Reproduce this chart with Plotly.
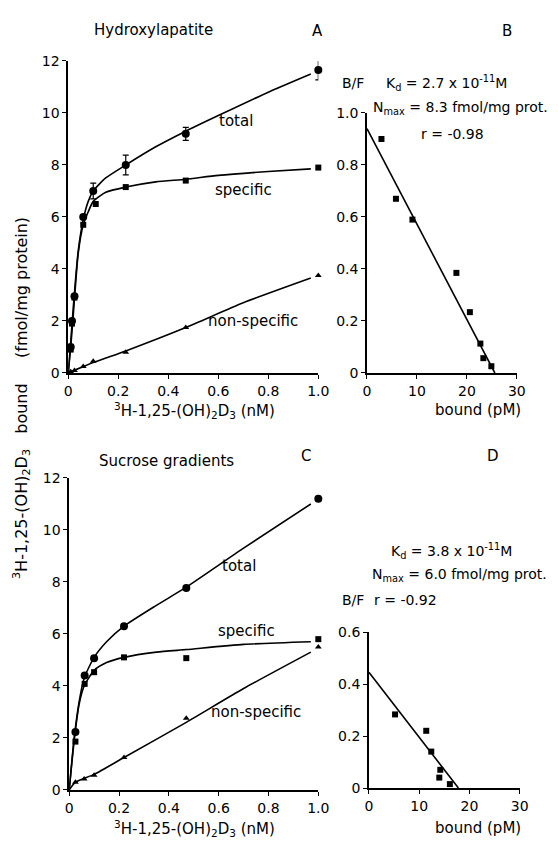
import plotly.graph_objects as go

# ---------------- Data ----------------
# Panel A: Hydroxylapatite
a_conc_total = [0.01, 0.015, 0.025, 0.06, 0.10, 0.23, 0.47, 1.0]
a_total = [1.0, 2.0, 2.95, 6.0, 7.0, 8.0, 9.2, 11.65]
a_total_err = [0.0, 0.0, 0.0, 0.0, 0.3, 0.38, 0.25, 0.38]
a_conc_spec = [0.01, 0.015, 0.025, 0.06, 0.11, 0.23, 0.47, 1.0]
a_specific = [0.9, 1.9, 2.9, 5.7, 6.5, 7.15, 7.4, 7.9]
a_conc_ns = [0.01, 0.025, 0.06, 0.10, 0.23, 0.47, 1.0]
a_nonspecific = [0.05, 0.1, 0.25, 0.45, 0.8, 1.75, 3.75]

a_curve_x = [0, 0.01, 0.02, 0.04, 0.06, 0.08, 0.10, 0.15, 0.23, 0.35, 0.47, 0.6, 0.8, 0.97]
a_curve_total = [0, 1.2, 2.5, 4.7, 5.9, 6.6, 7.0, 7.5, 8.0, 8.7, 9.3, 9.9, 10.8, 11.5]
a_curve_specific = [0, 1.0, 2.2, 4.6, 5.7, 6.2, 6.6, 6.95, 7.15, 7.35, 7.45, 7.6, 7.75, 7.85]
a_curve_ns_x = [0, 0.1, 0.23, 0.47, 0.7, 0.97]
a_curve_ns = [0, 0.4, 0.85, 1.75, 2.7, 3.65]

# Panel B: Scatchard (hydroxylapatite)
b_bound = [2.9, 5.8, 9.1, 17.9, 20.6, 22.7, 23.3, 24.9]
b_bf = [0.90, 0.67, 0.59, 0.385, 0.234, 0.113, 0.057, 0.026]
b_fit_x = [0, 25.6]
b_fit_y = [0.94, 0]

# Panel C: Sucrose gradients
c_conc = [0.025, 0.062, 0.10, 0.22, 0.47, 1.0]
c_total = [2.23, 4.4, 5.07, 6.3, 7.77, 11.2]
c_specific = [1.86, 4.08, 4.53, 5.1, 5.07, 5.8]
c_conc_ns = [0.025, 0.06, 0.10, 0.22, 0.47, 1.0]
c_nonspecific = [0.3, 0.42, 0.57, 1.25, 2.76, 5.5]

c_curve_x = [0, 0.02, 0.04, 0.06, 0.10, 0.15, 0.22, 0.35, 0.47, 0.7, 0.97]
c_curve_total = [0, 2.0, 3.4, 4.3, 5.1, 5.7, 6.3, 7.1, 7.8, 9.3, 11.0]
c_curve_specific = [0, 1.9, 3.3, 4.0, 4.6, 4.9, 5.1, 5.3, 5.4, 5.6, 5.7]
c_curve_ns_x = [0, 0.025, 0.10, 0.22, 0.47, 0.7, 0.97]
c_curve_ns = [0, 0.3, 0.6, 1.25, 2.6, 3.9, 5.3]

# Panel D: Scatchard (sucrose gradients)
d_bound = [5.2, 11.4, 12.4, 14.2, 14.0, 16.1]
d_bf = [0.283, 0.22, 0.14, 0.07, 0.04, 0.015]
d_fit_x = [0, 17.8]
d_fit_y = [0.445, 0]

# tick labels
conc_ticks = [0, 0.2, 0.4, 0.6, 0.8, 1.0]
conc_ticktext = ["0", "0.2", "0.4", "0.6", "0.8", "1.0"]
fmol_ticks = [0, 2, 4, 6, 8, 10, 12]
bound_ticks = [0, 10, 20, 30]
bf_ticks_b = [0, 0.2, 0.4, 0.6, 0.8, 1.0]
bf_ticktext_b = ["0", "0.2", "0.4", "0.6", "0.8", "1.0"]
bf_ticks_d = [0, 0.2, 0.4, 0.6]
bf_ticktext_d = ["0", "0.2", "0.4", "0.6"]

# ---------------- Layout helpers ----------------
W, H = 558, 848
FONT = "DejaVu Sans"


def px(p):
    return p / W


def py(p):
    return 1 - p / H


fig = go.Figure()


def line(x, y, xa, ya):
    fig.add_trace(go.Scatter(x=x, y=y, mode="lines", xaxis=xa, yaxis=ya,
                             line=dict(color="black", width=1.6, shape="spline", smoothing=0.6),
                             cliponaxis=False, showlegend=False, hoverinfo="skip"))


def pts(x, y, xa, ya, symbol, size, err=None):
    kw = {}
    if err is not None:
        kw["error_y"] = dict(type="data", array=err, color="black", thickness=1.2, width=3)
    fig.add_trace(go.Scatter(x=x, y=y, mode="markers", xaxis=xa, yaxis=ya,
                             marker=dict(symbol=symbol, size=size, color="black"),
                             cliponaxis=False, showlegend=False, **kw))


# Panel A
line(a_curve_x, a_curve_total, "x", "y")
line(a_curve_x, a_curve_specific, "x", "y")
line(a_curve_ns_x, a_curve_ns, "x", "y")
pts(a_conc_total, a_total, "x", "y", "circle", 8, a_total_err)
pts(a_conc_spec, a_specific, "x", "y", "square", 6)
pts(a_conc_ns, a_nonspecific, "x", "y", "triangle-up", 6)

# Panel B
fig.add_trace(go.Scatter(x=b_fit_x, y=b_fit_y, mode="lines", xaxis="x2", yaxis="y2",
                         line=dict(color="black", width=1.6), cliponaxis=False, showlegend=False))
pts(b_bound, b_bf, "x2", "y2", "square", 6)

# Panel C
line(c_curve_x, c_curve_total, "x3", "y3")
line(c_curve_x, c_curve_specific, "x3", "y3")
line(c_curve_ns_x, c_curve_ns, "x3", "y3")
pts(c_conc, c_total, "x3", "y3", "circle", 8)
pts(c_conc, c_specific, "x3", "y3", "square", 6)
pts(c_conc_ns, c_nonspecific, "x3", "y3", "triangle-up", 6)

# Panel D
fig.add_trace(go.Scatter(x=d_fit_x, y=d_fit_y, mode="lines", xaxis="x4", yaxis="y4",
                         line=dict(color="black", width=1.6), cliponaxis=False, showlegend=False))
pts(d_bound, d_bf, "x4", "y4", "square", 6)

axis_common = dict(showline=True, linecolor="black", linewidth=1.5, ticks="outside", ticklen=4,
                   tickwidth=1.2, tickcolor="black", showgrid=False, zeroline=False,
                   tickfont=dict(family=FONT, size=14, color="black"), fixedrange=True)

fig.update_layout(
    width=W, height=H, margin=dict(l=0, r=0, t=0, b=0),
    paper_bgcolor="white", plot_bgcolor="white", showlegend=False,
    font=dict(family=FONT, size=14, color="black"),
    xaxis=dict(domain=[px(66), px(323)], range=[0, 1.0], anchor="y",
               tickvals=conc_ticks, ticktext=conc_ticktext, **axis_common),
    yaxis=dict(domain=[py(372), py(54)], range=[0, 12], anchor="x",
               tickvals=fmol_ticks, **axis_common),
    xaxis2=dict(domain=[px(373), px(527)], range=[0, 30], anchor="y2",
                tickvals=bound_ticks, **axis_common),
    yaxis2=dict(domain=[py(372), py(107)], range=[0, 1.0], anchor="x2",
                tickvals=bf_ticks_b, ticktext=bf_ticktext_b, **axis_common),
    xaxis3=dict(domain=[px(67), px(323)], range=[0, 1.0], anchor="y3",
                tickvals=conc_ticks, ticktext=conc_ticktext, **axis_common),
    yaxis3=dict(domain=[py(797), py(479)], range=[0, 12], anchor="x3",
                tickvals=fmol_ticks, **axis_common),
    xaxis4=dict(domain=[px(375), px(530)], range=[0, 30], anchor="y4",
                tickvals=bound_ticks, **axis_common),
    yaxis4=dict(domain=[py(795), py(636)], range=[0, 0.6], anchor="x4",
                tickvals=bf_ticks_d, ticktext=bf_ticktext_d, **axis_common),
)

ann = []


def note(text, x, y, xref="paper", yref="paper", size=15, xanchor="center", textangle=0):
    ann.append(dict(text=text, x=x, y=y, xref=xref, yref=yref, showarrow=False,
                    font=dict(family=FONT, size=size, color="black"), xanchor=xanchor,
                    yanchor="middle", textangle=textangle))


# Titles / panel letters
note("Hydroxylapatite", px(154), py(22))
note("A", px(322), py(23))
note("B", px(517), py(23))
note("Sucrose gradients", px(167), py(462))
note("C", px(310), py(457))
note("D", px(503), py(457))

# Curve labels A
note("total", 0.67, 9.7, "x", "y")
note("specific", 0.70, 7.05, "x", "y")
note("non-specific", 0.74, 2.0, "x", "y")
# Curve labels C
note("total", 0.68, 8.6, "x3", "y3")
note("specific", 0.71, 6.1, "x3", "y3")
note("non-specific", 0.75, 3.0, "x3", "y3")

# Axis titles
xt = "<sup>3</sup>H-1,25-(OH)<sub>2</sub>D<sub>3</sub> (nM)"
note(xt, px(196), py(410))
note(xt, px(196), py(836))
note("bound (pM)", px(487), py(410))
note("bound (pM)", px(487), py(836))
note("<sup>3</sup>H-1,25-(OH)<sub>2</sub>D<sub>3</sub>&nbsp;&nbsp;&nbsp;bound&nbsp;&nbsp;&nbsp;&nbsp;&nbsp;(fmol/mg protein)",
     px(18), py(398), size=16, textangle=-90)

# Scatchard annotations B
note("B/F", px(345), py(76), size=14, xanchor="left")
note("K<sub>d</sub> = 2.7 x 10<sup>-11</sup>M", px(390), py(76), size=14, xanchor="left")
note("N<sub>max</sub> = 8.3 fmol/mg prot.", px(377), py(102), size=14, xanchor="left")
note("r = -0.98", px(426), py(128), size=14, xanchor="left")

# Scatchard annotations D
note("K<sub>d</sub> = 3.8 x 10<sup>-11</sup>M", px(396), py(553), size=14, xanchor="left")
note("N<sub>max</sub> = 6.0 fmol/mg prot.", px(376), py(578), size=14, xanchor="left")
note("B/F", px(345), py(603), size=14, xanchor="left")
note("r = -0.92", px(378), py(603), size=14, xanchor="left")

fig.update_layout(annotations=ann)
fig.write_html("out.html", config={"displayModeBar": False},
               post_script="document.body.style.margin='0';document.body.style.overflow='hidden';")
